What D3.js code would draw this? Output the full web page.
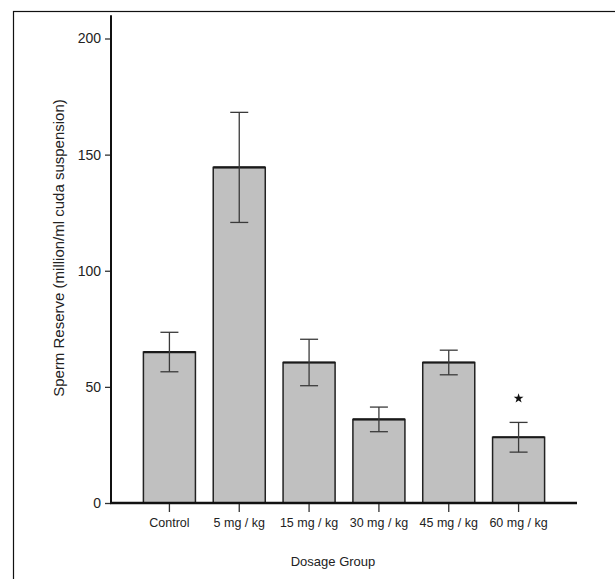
<!DOCTYPE html>
<html>
<head>
<meta charset="utf-8">
<script src="https://cdn.jsdelivr.net/npm/d3@7"></script>
<style>
  body { margin: 0; background: #fff; }
  text { font-family: "Liberation Sans", Arial, sans-serif; fill: #222; }
</style>
</head>
<body>
<div id="plot"></div>
<script>
// values
const groups = ["Control", "5 mg / kg", "15 mg / kg", "30 mg / kg", "45 mg / kg", "60 mg / kg"];
const means = [65, 144.5, 60.5, 36, 60.5, 28.3];
const errors = [8.5, 23.7, 10, 5.3, 5.3, 6.4];
const significant = [false, false, false, false, false, true];
const yTicks = [0, 50, 100, 150, 200];

const width = 615, height = 579;

let svg = d3.select("#plot").append("svg")
    .attr("width", width)
    .attr("height", height);

// outer frame (runs off the right and bottom edges)
svg.append("rect")
    .attr("x", 13.5).attr("y", 11.5)
    .attr("width", 620).attr("height", 600)
    .attr("fill", "none").attr("stroke", "#111").attr("stroke-width", 1.2);

let y = d3.scaleLinear().domain([0, 200]).range([503, 38.5]);
let x = d3.scaleBand().domain(groups)
    .range([134.5, 553.5])
    .paddingInner(0.255)
    .paddingOuter(0.1275);

const axisX = 111;

// y axis
let yAxis = svg.append("g")
    .attr("transform", `translate(${axisX},0)`)
    .call(d3.axisLeft(y).tickValues(yTicks).tickSize(6).tickPadding(4).tickFormat(d3.format("d")));
yAxis.select(".domain").remove();
yAxis.selectAll(".tick line").attr("stroke", "#333").attr("stroke-width", 1.3);
yAxis.selectAll(".tick text").style("font-size", "14px").attr("fill", "#222");

svg.append("line")
    .attr("x1", axisX).attr("x2", axisX)
    .attr("y1", y(210)).attr("y2", y(0) + 1)
    .attr("stroke", "#111").attr("stroke-width", 2);

// bars
svg.append("g").selectAll("rect")
    .data(groups)
    .join("rect")
    .attr("x", d => x(d))
    .attr("y", (d, i) => y(means[i]))
    .attr("width", x.bandwidth())
    .attr("height", (d, i) => y(0) - y(means[i]))
    .attr("fill", "#c0c0c0")
    .attr("stroke", "#222")
    .attr("stroke-width", 1.5);

// bar tops are drawn a bit heavier
svg.append("g").selectAll("line")
    .data(groups)
    .join("line")
    .attr("x1", d => x(d))
    .attr("x2", d => x(d) + x.bandwidth())
    .attr("y1", (d, i) => y(means[i]))
    .attr("y2", (d, i) => y(means[i]))
    .attr("stroke", "#1a1a1a")
    .attr("stroke-width", 2.2);

// error bars
let err = svg.append("g").attr("stroke", "#3a3a3a").attr("stroke-width", 1.3);
groups.forEach((g, i) => {
    let cx = x(g) + x.bandwidth() / 2;
    let hi = y(means[i] + errors[i]), lo = y(means[i] - errors[i]);
    err.append("line").attr("x1", cx).attr("x2", cx).attr("y1", hi).attr("y2", lo);
    err.append("line").attr("x1", cx - 9).attr("x2", cx + 9).attr("y1", hi).attr("y2", hi);
    err.append("line").attr("x1", cx - 9).attr("x2", cx + 9).attr("y1", lo).attr("y2", lo);
    if (significant[i]) {
        svg.append("path")
            .attr("d", d3.symbol(d3.symbolStar).size(30))
            .attr("transform", `translate(${cx},${hi - 24})`)
            .attr("fill", "#111");
    }
});

// x axis
let xAxis = svg.append("g")
    .attr("transform", `translate(0,${y(0)})`)
    .call(d3.axisBottom(x).tickSize(9).tickPadding(6));
xAxis.select(".domain").remove();
xAxis.selectAll(".tick line").attr("stroke", "#333").attr("stroke-width", 1.3);
xAxis.selectAll(".tick text").style("font-size", "12.5px").attr("fill", "#222");

svg.append("line")
    .attr("x1", axisX - 1).attr("x2", 577)
    .attr("y1", y(0)).attr("y2", y(0))
    .attr("stroke", "#111").attr("stroke-width", 2.5);

// axis titles
svg.append("text")
    .attr("x", 333).attr("y", 566)
    .attr("text-anchor", "middle")
    .style("font-size", "13px")
    .text("Dosage Group");

svg.append("text")
    .attr("transform", "translate(64,248) rotate(-90)")
    .attr("text-anchor", "middle")
    .style("font-size", "15px")
    .text("Sperm Reserve (million/ml cuda suspension)");
</script>
</body>
</html>
